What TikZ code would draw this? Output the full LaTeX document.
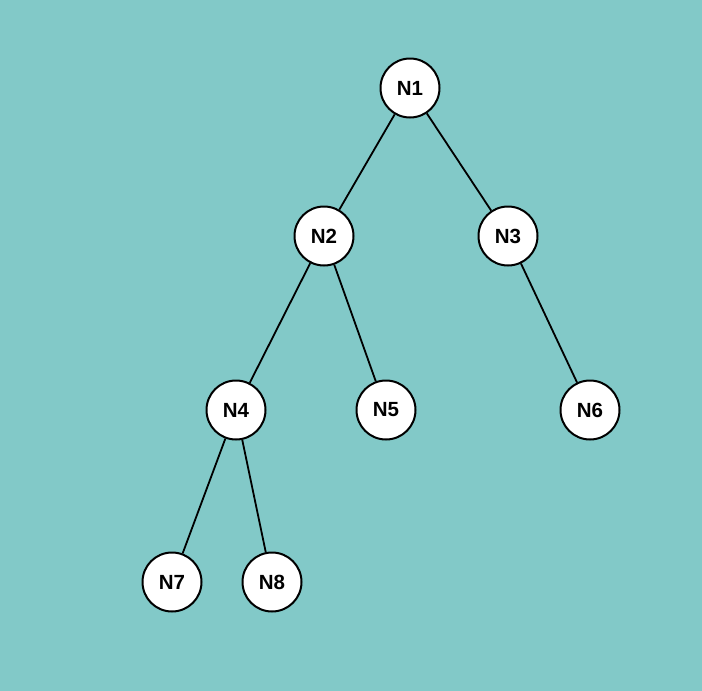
\documentclass[tikz,border=0pt]{standalone}
\usepackage{fontspec}
\setmainfont{Liberation Sans}
\definecolor{bgteal}{HTML}{82C9C8}
\begin{document}
\begin{tikzpicture}[x=1pt,y=-1pt,
  treenode/.style={circle,draw=black,fill=white,line width=2pt,minimum size=59pt,inner sep=0pt,
    font=\fontsize{20.5}{20.5}\selectfont\bfseries},
  branch/.style={line width=1.8pt,draw=black}]
  \fill[bgteal] (0,0) rectangle (702,691);
  \useasboundingbox (0,0) rectangle (702,691);
  \node[treenode] (n1) at (410,88) {N1};
  \node[treenode] (n2) at (324,236) {N2};
  \node[treenode] (n3) at (508,236) {N3};
  \node[treenode] (n4) at (236,410) {N4};
  \node[treenode] (n5) at (386,410) {N5};
  \node[treenode] (n6) at (590,410) {N6};
  \node[treenode] (n7) at (172,582) {N7};
  \node[treenode] (n8) at (272,582) {N8};
  \draw[branch] (n1) -- (n2);
  \draw[branch] (n1) -- (n3);
  \draw[branch] (n2) -- (n4);
  \draw[branch] (n2) -- (n5);
  \draw[branch] (n3) -- (n6);
  \draw[branch] (n4) -- (n7);
  \draw[branch] (n4) -- (n8);
\end{tikzpicture}
\end{document}
